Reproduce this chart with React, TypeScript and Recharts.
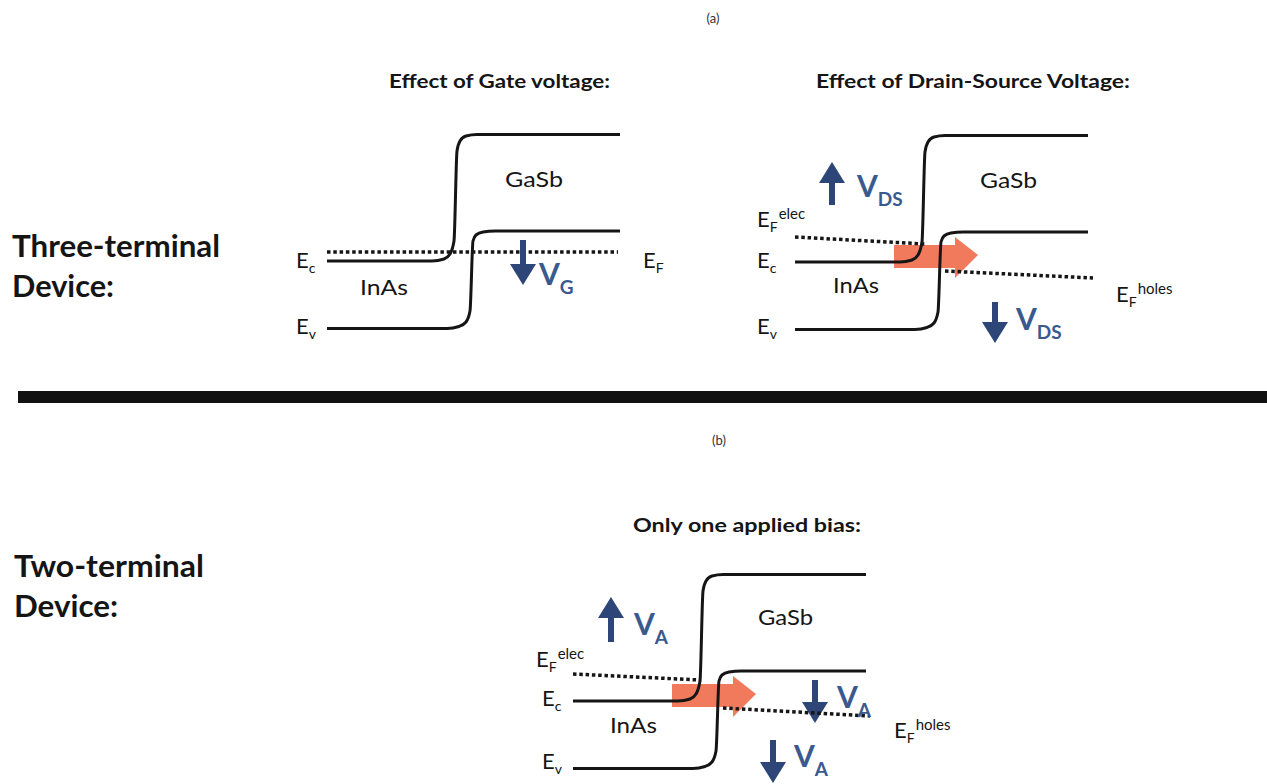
import React from 'react';
import { ComposedChart, Line, Area, XAxis, YAxis } from 'recharts';

// Band profile shared by all three panels.
// position = distance along the junction (px), energy in arb. units with InAs Ec = 0 (100 px per unit)
const conductionPos = [0, 105, 117, 123, 127, 130, 133, 139, 150, 293];
const conductionEnergy = [0, 0, 0.02, 0.07, 0.2, 1.1, 1.2, 1.25, 1.265, 1.265];
const valencePos = [0, 120, 132, 139, 143, 146, 149, 156, 168, 293];
const valenceEnergy = [-0.675, -0.675, -0.655, -0.61, -0.5, 0.2, 0.26, 0.29, 0.3, 0.3];

// Fermi levels
const gateFermiPos = [0, 291];
const gateFermiEnergy = [0.09, 0.09];
const dsElecPos = [0, 130];
const dsElecEnergy = [0.25, 0.18];
const dsHolesPos = [150, 298];
const dsHolesEnergy = [-0.09, -0.16];
const biasElecPos = [0, 127];
const biasElecEnergy = [0.27, 0.21];
const biasHolesPos = [150, 297];
const biasHolesEnergy = [-0.07, -0.15];

// tunnelling current arrow (orange)
const currentPos = [99, 160, 160, 183];
const currentLow = [-0.06, -0.06, -0.16, 0.07];
const currentHigh = [0.17, 0.17, 0.25, 0.07];

// bias arrows: position, tail energy, tip energy
const gateArrowPos = [196];
const gateArrowFrom = [0.21];
const gateArrowTo = [-0.24];
const dsArrowPos = [37, 200];
const dsArrowFrom = [0.57, -0.4];
const dsArrowTo = [1.0, -0.81];
const biasArrowPos = [38, 242, 200];
const biasArrowFrom = [0.59, 0.21, -0.39];
const biasArrowTo = [1.04, -0.22, -0.82];

const INK = '#151515';
const BLUE = '#2d4677';
const BLUE_TEXT = '#3a5a8f';
const ORANGE = '#f06c4b';
const FONT = 'Lato, "Open Sans", sans-serif';
const HEAD_LEN = 0.21;
const HEAD_HALF = 13;

const zip = (xs: number[], ys: number[]) => xs.map((x, i) => ({ x, y: ys[i] }));

interface Panel {
  key: string;
  left: number;
  baseline: number;
  fermi: { pos: number[]; energy: number[] }[];
  arrows: { pos: number[]; from: number[]; to: number[] };
  current: boolean;
}

const panels: Panel[] = [
  {
    key: 'gate',
    left: 327,
    baseline: 261,
    fermi: [{ pos: gateFermiPos, energy: gateFermiEnergy }],
    arrows: { pos: gateArrowPos, from: gateArrowFrom, to: gateArrowTo },
    current: false,
  },
  {
    key: 'ds',
    left: 795,
    baseline: 262,
    fermi: [
      { pos: dsElecPos, energy: dsElecEnergy },
      { pos: dsHolesPos, energy: dsHolesEnergy },
    ],
    arrows: { pos: dsArrowPos, from: dsArrowFrom, to: dsArrowTo },
    current: true,
  },
  {
    key: 'bias',
    left: 573,
    baseline: 701,
    fermi: [
      { pos: biasElecPos, energy: biasElecEnergy },
      { pos: biasHolesPos, energy: biasHolesEnergy },
    ],
    arrows: { pos: biasArrowPos, from: biasArrowFrom, to: biasArrowTo },
    current: true,
  },
];

function BandPanel({ p }: { p: Panel }) {
  const current = currentPos.map((x, i) => ({ x, range: [currentLow[i], currentHigh[i]] }));
  const arrows = p.arrows.pos.map((x, i) => {
    const from = p.arrows.from[i];
    const to = p.arrows.to[i];
    const dir = to > from ? 1 : -1;
    const base = to - dir * HEAD_LEN;
    return {
      shaft: [
        { x, y: from },
        { x, y: base + dir * 0.02 },
      ],
      head: [
        { x: x - HEAD_HALF, range: [base, base] },
        { x, range: dir > 0 ? [base, to] : [to, base] },
        { x: x + HEAD_HALF, range: [base, base] },
      ],
    };
  });

  return (
    <div style={{ position: 'absolute', left: p.left - 40, top: p.baseline - 160 }}>
      <ComposedChart width={360} height={260} margin={{ top: 0, right: 0, bottom: 0, left: 0 }}>
        <XAxis type="number" dataKey="x" domain={[-40, 320]} hide allowDataOverflow />
        <YAxis type="number" domain={[-1, 1.6]} hide allowDataOverflow />
        {p.current && (
          <Area
            data={current}
            dataKey="range"
            type="linear"
            stroke="none"
            fill={ORANGE}
            fillOpacity={0.9}
            isAnimationActive={false}
            dot={false}
            activeDot={false}
          />
        )}
        <Line
          data={zip(conductionPos, conductionEnergy)}
          dataKey="y"
          type="monotone"
          stroke={INK}
          strokeWidth={3}
          dot={false}
          activeDot={false}
          isAnimationActive={false}
        />
        <Line
          data={zip(valencePos, valenceEnergy)}
          dataKey="y"
          type="monotone"
          stroke={INK}
          strokeWidth={3}
          dot={false}
          activeDot={false}
          isAnimationActive={false}
        />
        {p.fermi.map((f, i) => (
          <Line
            key={'ef' + i}
            data={zip(f.pos, f.energy)}
            dataKey="y"
            type="linear"
            stroke={INK}
            strokeWidth={3.5}
            strokeDasharray="3.5 2.8"
            dot={false}
            activeDot={false}
            isAnimationActive={false}
          />
        ))}
        {arrows.map((a, i) => (
          <Line
            key={'shaft' + i}
            data={a.shaft}
            dataKey="y"
            type="linear"
            stroke={BLUE}
            strokeWidth={6}
            dot={false}
            activeDot={false}
            isAnimationActive={false}
          />
        ))}
        {arrows.map((a, i) => (
          <Area
            key={'head' + i}
            data={a.head}
            dataKey="range"
            type="linear"
            stroke="none"
            fill={BLUE}
            fillOpacity={1}
            dot={false}
            activeDot={false}
            isAnimationActive={false}
          />
        ))}
      </ComposedChart>
    </div>
  );
}

function ELabel({ x, y, sub, sup }: { x: number; y: number; sub: string; sup?: string }) {
  return (
    <text x={x} y={y} fontSize={22} fill={INK} fontFamily={FONT}>
      E
      <tspan fontSize={14} dy={5}>
        {sub}
      </tspan>
      {sup && (
        <tspan fontSize={15} dy={-13} dx={1}>
          {sup}
        </tspan>
      )}
    </text>
  );
}

function VLabel({ x, y, sub }: { x: number; y: number; sub: string }) {
  return (
    <text x={x} y={y} fontSize={30} fontWeight={700} fill={BLUE_TEXT} fontFamily={FONT}>
      V
      <tspan fontSize={19} dy={9}>
        {sub}
      </tspan>
    </text>
  );
}

function Plain({
  x,
  y,
  text,
  size,
  bold,
  anchor,
  len,
  color,
}: {
  x: number;
  y: number;
  text: string;
  size: number;
  bold?: boolean;
  anchor?: 'start' | 'middle' | 'end';
  len?: number;
  color?: string;
}) {
  return (
    <text
      x={x}
      y={y}
      fontSize={size}
      fontWeight={bold ? 700 : 400}
      fill={color || INK}
      fontFamily={FONT}
      textAnchor={anchor || 'start'}
      textLength={len}
      lengthAdjust={len ? 'spacingAndGlyphs' : undefined}
    >
      {text}
    </text>
  );
}

export default function App() {
  return (
    <div style={{ position: 'relative', width: 1267, height: 784, background: '#fff', overflow: 'hidden' }}>
      <style>{'body{margin:0}'}</style>
      {panels.map((p) => (
        <BandPanel key={p.key} p={p} />
      ))}
      <div style={{ position: 'absolute', left: 18, top: 391, width: 1249, height: 12, background: '#111' }} />
      <svg
        width={1267}
        height={784}
        style={{ position: 'absolute', left: 0, top: 0, pointerEvents: 'none' }}
      >
        <Plain x={713} y={23} text="(a)" size={13} anchor="middle" color="#333" />
        <Plain x={719} y={445} text="(b)" size={13} anchor="middle" color="#333" />

        <Plain x={389} y={88} text="Effect of Gate voltage:" size={19} bold len={221} />
        <Plain x={816} y={88} text="Effect of Drain-Source Voltage:" size={19} bold len={314} />
        <Plain x={633} y={532} text="Only one applied bias:" size={19} bold len={228} />

        <Plain x={12} y={257} text="Three-terminal" size={30} bold len={208} />
        <Plain x={12} y={297} text="Device:" size={30} bold len={102} />
        <Plain x={14} y={577} text="Two-terminal" size={30} bold len={190} />
        <Plain x={14} y={617} text="Device:" size={30} bold len={104} />

        {/* gate panel */}
        <ELabel x={296} y={268} sub="c" />
        <ELabel x={296} y={334} sub="v" />
        <ELabel x={643} y={268} sub="F" />
        <Plain x={360} y={295} text="InAs" size={22} len={48} />
        <Plain x={505} y={187} text="GaSb" size={22} len={58} />
        <VLabel x={539} y={285} sub="G" />

        {/* drain-source panel */}
        <ELabel x={757} y={227} sub="F" sup="elec" />
        <ELabel x={757} y={268} sub="c" />
        <ELabel x={757} y={334} sub="v" />
        <ELabel x={1116} y={302} sub="F" sup="holes" />
        <Plain x={833} y={293} text="InAs" size={22} len={46} />
        <Plain x={980} y={188} text="GaSb" size={22} len={57} />
        <VLabel x={857} y={197} sub="DS" />
        <VLabel x={1016} y={330} sub="DS" />

        {/* two-terminal panel */}
        <ELabel x={536} y={667} sub="F" sup="elec" />
        <ELabel x={542} y={706} sub="c" />
        <ELabel x={542} y={769} sub="v" />
        <ELabel x={894} y={738} sub="F" sup="holes" />
        <Plain x={610} y={733} text="InAs" size={22} len={47} />
        <Plain x={758} y={625} text="GaSb" size={22} len={55} />
        <VLabel x={634} y={635} sub="A" />
        <VLabel x={837} y={708} sub="A" />
        <VLabel x={794} y={767} sub="A" />
      </svg>
    </div>
  );
}
